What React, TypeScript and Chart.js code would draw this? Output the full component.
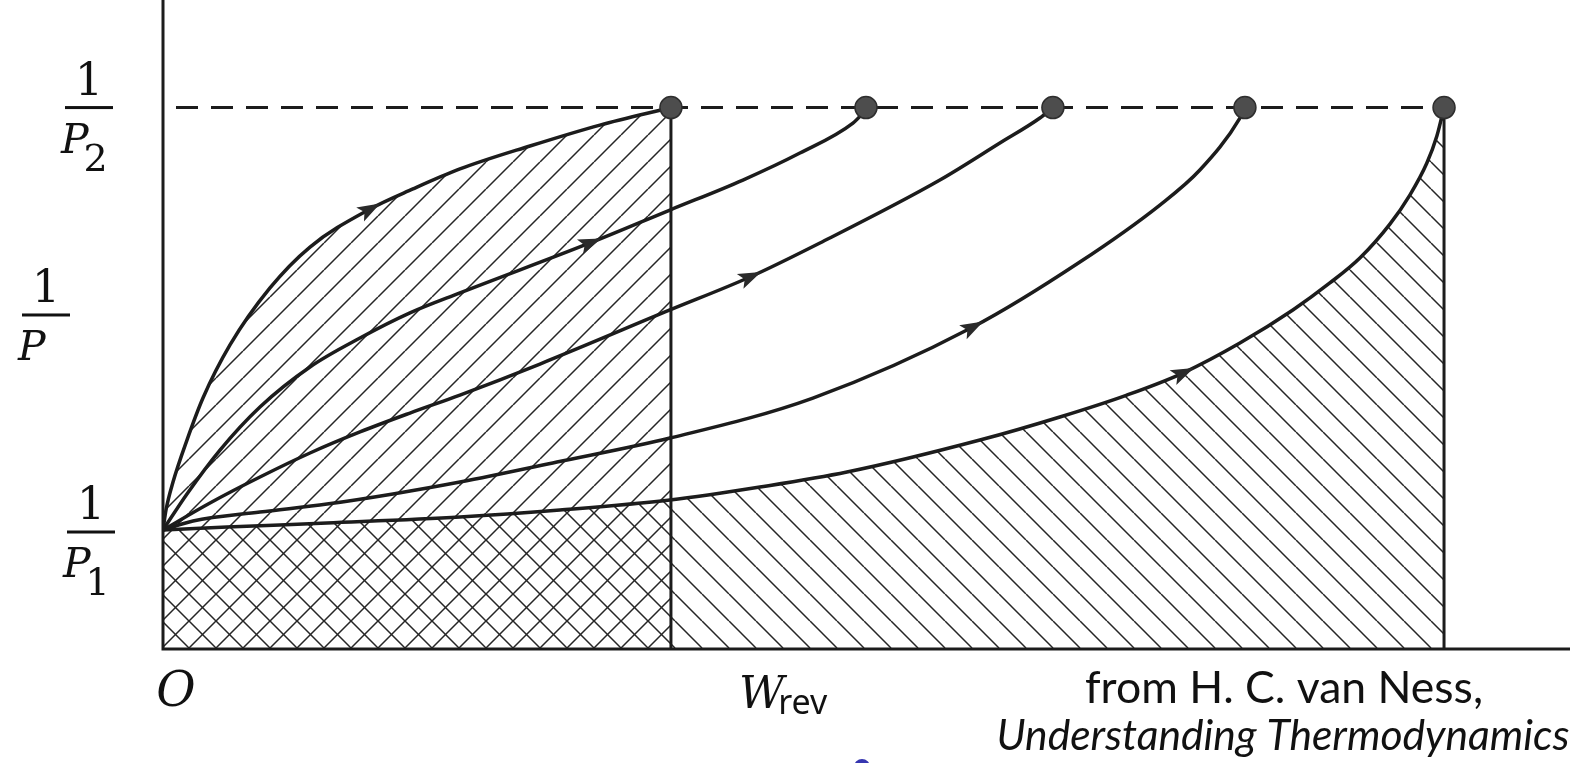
import React, { useEffect, useRef } from "react";
import { Chart, registerables } from "chart.js";

Chart.register(...registerables);

// Axes: x = work (in units of W_rev), y = 1/P (in units of 1/P1)
const X_MAX = 2.77;
const Y_MAX = 5.454;
const INV_P1 = 1.0;
const INV_P2 = 4.55;
const W_REV = 1.0;
const W_END = 2.522;

const curve1X = [0, 0.0059, 0.0197, 0.0472, 0.0787, 0.1319, 0.2106, 0.2894, 0.4075, 0.4921, 0.5846, 0.7224, 0.8602, 1.0];
const curve1Y = [1.0, 1.168, 1.403, 1.756, 2.109, 2.555, 3.034, 3.378, 3.697, 3.866, 4.034, 4.227, 4.403, 4.55];

const curve2X = [0, 0.0472, 0.1122, 0.1909, 0.2894, 0.3878, 0.4862, 0.5846, 0.8406, 0.998, 1.1417, 1.2539, 1.3583, 1.3839];
const curve2Y = [1.0, 1.303, 1.672, 2.034, 2.37, 2.613, 2.824, 2.992, 3.412, 3.689, 3.941, 4.168, 4.42, 4.529];

const curve3X = [0, 0.0925, 0.1909, 0.2894, 0.3878, 0.4862, 0.5846, 0.7421, 0.998, 1.1555, 1.2933, 1.5295, 1.6476, 1.7264, 1.752];
const curve3Y = [1.0, 1.227, 1.445, 1.647, 1.824, 1.983, 2.134, 2.395, 2.849, 3.126, 3.412, 3.941, 4.252, 4.462, 4.55];

const curve4X = [0, 0.0591, 0.1909, 0.3228, 0.4528, 0.5846, 0.7756, 0.998, 1.2795, 1.5945, 1.8051, 1.9626, 2.0413, 2.1201, 2.1299];
const curve4Y = [1.0, 1.076, 1.151, 1.218, 1.303, 1.403, 1.571, 1.773, 2.109, 2.706, 3.252, 3.731, 4.025, 4.462, 4.55];

const curve5X = [0, 0.126, 0.3228, 0.5846, 0.7815, 0.998, 1.1752, 1.3465, 1.6083, 1.7657, 1.8976, 2.0079, 2.1201, 2.2244, 2.2972, 2.3563, 2.4154, 2.4547, 2.4882, 2.5079, 2.522];
const curve5Y = [1.0, 1.025, 1.059, 1.109, 1.168, 1.252, 1.361, 1.487, 1.756, 1.95, 2.134, 2.319, 2.571, 2.849, 3.076, 3.286, 3.571, 3.815, 4.084, 4.311, 4.55];

const endX = [1.0, 1.384, 1.752, 2.13, 2.522];
const arrowX = [0.407, 0.841, 1.156, 1.594, 2.008];

const yTickValues = [INV_P2, 2.807, INV_P1];
const yTickSubs = ["2", "", "1"];
const xTickValues = [0, W_REV];
const xTickLabels = ["O", "W"];
const xTickSubs = ["", "rev"];
const creditLines = ["from H. C. van Ness,", "Understanding Thermodynamics"];

const INK = "#1c1c1c";

function makeHatch(ctx: CanvasRenderingContext2D, dir: number, s: number, w: number, color: string) {
  const c = document.createElement("canvas");
  c.width = s;
  c.height = s;
  const g = c.getContext("2d")!;
  g.strokeStyle = color;
  g.lineWidth = w;
  g.beginPath();
  for (let k = -1; k <= 1; k++) {
    if (dir > 0) {
      g.moveTo(k * s, s);
      g.lineTo(k * s + s, 0);
    } else {
      g.moveTo(k * s, 0);
      g.lineTo(k * s + s, s);
    }
  }
  g.stroke();
  return ctx.createPattern(c, "repeat");
}

function pointOnCurve(pts: any[], px: number) {
  for (let j = 0; j < pts.length - 1; j++) {
    const a = pts[j];
    const b = pts[j + 1];
    if (px >= a.x && px <= b.x) {
      const p0x = a.x, p0y = a.y, p3x = b.x, p3y = b.y;
      const c1x = a.cp2x ?? a.x, c1y = a.cp2y ?? a.y;
      const c2x = b.cp1x ?? b.x, c2y = b.cp1y ?? b.y;
      const bz = (t: number, q0: number, q1: number, q2: number, q3: number) => {
        const u = 1 - t;
        return u * u * u * q0 + 3 * u * u * t * q1 + 3 * u * t * t * q2 + t * t * t * q3;
      };
      const dz = (t: number, q0: number, q1: number, q2: number, q3: number) => {
        const u = 1 - t;
        return 3 * u * u * (q1 - q0) + 6 * u * t * (q2 - q1) + 3 * t * t * (q3 - q2);
      };
      let lo = 0, hi = 1;
      for (let k = 0; k < 40; k++) {
        const m = (lo + hi) / 2;
        if (bz(m, p0x, c1x, c2x, p3x) < px) lo = m;
        else hi = m;
      }
      const t = (lo + hi) / 2;
      return {
        x: bz(t, p0x, c1x, c2x, p3x),
        y: bz(t, p0y, c1y, c2y, p3y),
        ang: Math.atan2(dz(t, p0y, c1y, c2y, p3y), dz(t, p0x, c1x, c2x, p3x)),
      };
    }
  }
  return null;
}

const decor = {
  id: "decor",
  afterDraw(chart: any) {
    const { ctx, chartArea } = chart;
    const xs = chart.scales.x;
    const ys = chart.scales.y;
    ctx.save();

    // axes
    ctx.strokeStyle = INK;
    ctx.lineWidth = 3;
    ctx.beginPath();
    ctx.moveTo(chartArea.left, 0);
    ctx.lineTo(chartArea.left, chartArea.bottom + 1.5);
    ctx.moveTo(chartArea.left, chartArea.bottom);
    ctx.lineTo(chartArea.right, chartArea.bottom);
    ctx.stroke();

    // arrowheads
    ctx.fillStyle = "#2a2a2a";
    for (let i = 0; i < 5; i++) {
      const meta = chart.getDatasetMeta(2 + i);
      const p = pointOnCurve(meta.data, xs.getPixelForValue(arrowX[i]));
      if (!p) continue;
      ctx.save();
      ctx.translate(p.x, p.y);
      ctx.rotate(p.ang);
      ctx.beginPath();
      ctx.moveTo(12, 0);
      ctx.lineTo(-11, -8);
      ctx.lineTo(-6, 0);
      ctx.lineTo(-11, 8);
      ctx.closePath();
      ctx.fill();
      ctx.restore();
    }

    // y labels as fractions 1/P
    ctx.fillStyle = "#111";
    const cxs = [89, 46, 91];
    const dys = [0, 0, 2];
    yTickValues.forEach((v, i) => {
      const cx = cxs[i];
      const by = ys.getPixelForValue(v) + dys[i];
      ctx.fillRect(cx - 24, by - 1.5, 48, 3);
      ctx.font = "44px 'DejaVu Serif'";
      ctx.textAlign = "center";
      ctx.textBaseline = "alphabetic";
      ctx.fillText("1", cx, by - 13);
      ctx.textAlign = "left";
      ctx.font = "italic 41px 'DejaVu Serif'";
      const px = cx - 28;
      ctx.fillText("P", px, by + 45);
      const pw = ctx.measureText("P").width;
      if (yTickSubs[i]) {
        ctx.font = "38px 'DejaVu Serif'";
        ctx.fillText(yTickSubs[i], px + pw - 5, by + 63);
      }
    });

    // x labels
    xTickValues.forEach((v, i) => {
      const x = xs.getPixelForValue(v);
      if (i === 0) {
        ctx.font = "italic 48px 'DejaVu Serif'";
        ctx.textAlign = "center";
        ctx.fillText(xTickLabels[i], x + 13, 706);
      } else {
        ctx.font = "italic 44px 'DejaVu Serif'";
        ctx.textAlign = "left";
        const wx = x + 68;
        ctx.fillText(xTickLabels[i], wx, 708);
        const ww = ctx.measureText(xTickLabels[i]).width;
        ctx.font = "34px 'Noto Sans'";
        ctx.fillText(xTickSubs[i], wx + ww - 6, 714);
      }
    });

    // credit
    const fit = (text: string, style: string, target: number) => {
      ctx.font = `${style} 40px Lato`;
      const w = ctx.measureText(text).width;
      const size = (40 * target) / w;
      ctx.font = `${style} ${size.toFixed(2)}px Lato`;
    };
    ctx.textAlign = "center";
    fit(creditLines[0], "normal", 398);
    ctx.fillText(creditLines[0], 1284, 703);
    fit(creditLines[1], "italic", 573);
    ctx.fillText(creditLines[1], 1283, 750);

    // small blue mark at bottom
    ctx.fillStyle = "#3636b0";
    ctx.beginPath();
    ctx.arc(862, 767, 8, 0, Math.PI * 2);
    ctx.fill();

    ctx.restore();
  },
};

export default function App() {
  const ref = useRef<HTMLCanvasElement>(null);

  useEffect(() => {
    const canvas = ref.current!;
    const ctx = canvas.getContext("2d")!;
    const fwd = makeHatch(ctx, 1, 27, 1.5, "#262626");
    const back = makeHatch(ctx, -1, 27, 1.5, "#262626");
    const pts = (xa: number[], ya: number[]) => xa.map((x, i) => ({ x, y: ya[i] }));
    const curves = [
      pts(curve1X, curve1Y),
      pts(curve2X, curve2Y),
      pts(curve3X, curve3Y),
      pts(curve4X, curve4Y),
      pts(curve5X, curve5Y),
    ];
    const curveSets = curves.map((d) => ({
      data: d,
      borderColor: INK,
      borderWidth: 3.5,
      pointRadius: 0,
      fill: false,
      cubicInterpolationMode: "monotone",
    }));

    const chart = new Chart(ctx, {
      type: "line",
      data: {
        datasets: [
          {
            data: endX.map((x) => ({ x, y: INV_P2 })),
            showLine: false,
            pointRadius: 11,
            pointBackgroundColor: "#4d4d4d",
            pointBorderColor: "#2e2e2e",
            pointBorderWidth: 1.5,
          },
          {
            data: [
              { x: 0, y: INV_P2 },
              { x: W_END, y: INV_P2 },
            ],
            borderColor: INK,
            borderWidth: 3,
            borderDash: [22, 13],
            borderDashOffset: 22,
            pointRadius: 0,
          },
          ...curveSets,
          {
            data: [
              { x: W_REV, y: 0 },
              { x: W_REV, y: INV_P2 },
            ],
            borderColor: INK,
            borderWidth: 3,
            pointRadius: 0,
          },
          {
            data: [
              { x: W_END, y: 0 },
              { x: W_END, y: INV_P2 },
            ],
            borderColor: INK,
            borderWidth: 3,
            pointRadius: 0,
          },
          {
            data: pts(curve1X, curve1Y),
            borderWidth: 0,
            pointRadius: 0,
            fill: "origin",
            backgroundColor: fwd,
            cubicInterpolationMode: "monotone",
          },
          {
            data: pts(curve5X, curve5Y),
            borderWidth: 0,
            pointRadius: 0,
            fill: "origin",
            backgroundColor: back,
            cubicInterpolationMode: "monotone",
          },
        ] as any,
      },
      options: {
        animation: false,
        responsive: false,
        devicePixelRatio: 1,
        events: [],
        layout: { autoPadding: false, padding: { left: 163, right: 13, top: 0, bottom: 114 } },
        scales: {
          x: { type: "linear", min: 0, max: X_MAX, display: false },
          y: { type: "linear", min: 0, max: Y_MAX, display: false },
        },
        plugins: {
          legend: { display: false },
          tooltip: { enabled: false },
        },
      } as any,
      plugins: [decor],
    });
    return () => chart.destroy();
  }, []);

  return (
    <div style={{ position: "fixed", left: 0, top: 0, width: 1583, height: 763, background: "#fff" }}>
      <canvas ref={ref} width={1583} height={763} style={{ display: "block", width: 1583, height: 763 }} />
    </div>
  );
}
